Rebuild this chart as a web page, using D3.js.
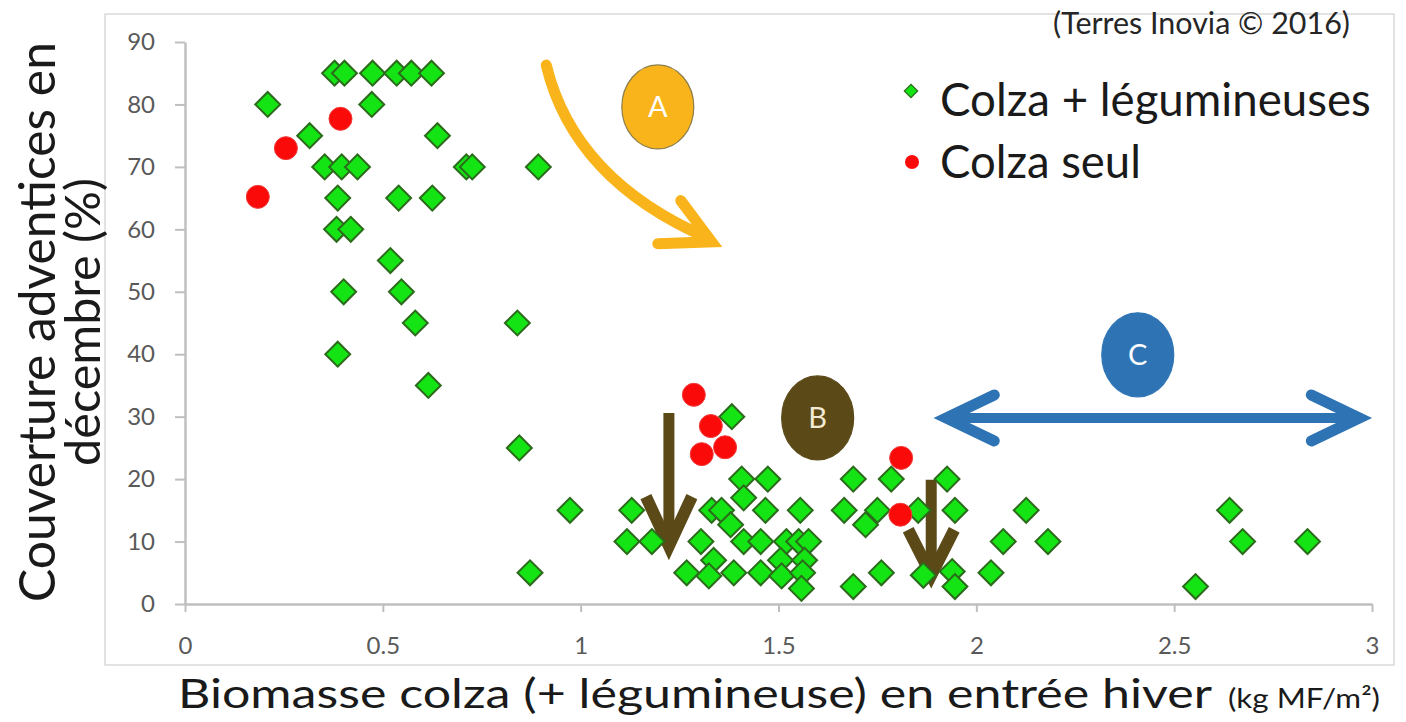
<!DOCTYPE html>
<html>
<head>
<meta charset="utf-8">
<script src="https://cdn.jsdelivr.net/npm/d3@7"></script>
<style>
  html, body { margin: 0; padding: 0; background: #fff; }
  svg { display: block; font-family: Lato, "Open Sans", sans-serif; }
</style>
</head>
<body>
<div id="chart"></div>
<script>
// ---- data ----
// Colza + légumineuses (green diamonds)
const legumeX = [0.378, 0.403, 0.474, 0.535, 0.572, 0.623,
  0.209, 0.472, 0.315, 0.638,
  0.353, 0.396, 0.436, 0.711, 0.726, 0.893,
  0.386, 0.540, 0.625, 0.383, 0.419, 0.519, 0.401, 0.547,
  0.582, 0.840, 0.386, 0.615, 1.382, 0.845,
  1.407, 1.473, 1.689, 1.785, 1.926, 1.412,
  0.973, 1.129, 1.331, 1.356, 1.467, 1.555, 1.666, 1.750, 1.853, 1.946, 2.126, 2.640,
  1.379, 1.720,
  1.117, 1.180, 1.304, 1.412, 1.455, 1.520, 1.551, 1.576, 2.068, 2.181, 2.673, 2.837,
  1.336, 1.505, 1.566,
  0.872, 1.268, 1.324, 1.387, 1.455, 1.508, 1.561, 1.760, 1.866, 1.939, 2.037,
  1.558, 1.689, 1.946, 2.554];
const legumeY = [85, 85, 85, 85, 85, 85,
  80, 80, 75, 75,
  70, 70, 70, 70, 70, 70,
  65, 65, 65, 60, 60, 55, 50, 50,
  45, 45, 40, 35, 30, 25,
  20, 20, 20, 20, 20, 17,
  15, 15, 15, 15, 15, 15, 15, 15, 15, 15, 15, 15,
  12.7, 12.7,
  10, 10, 10, 10, 10, 10, 10, 10, 10, 10, 10, 10,
  7, 7, 7,
  5, 5, 4.5, 5, 5, 4.5, 5, 5, 4.6, 5.2, 5,
  2.5, 2.8, 2.8, 2.8];

// Colza seul (red dots)
const seulX = [0.184, 0.255, 0.393, 1.286, 1.329, 1.306, 1.365, 1.810, 1.808];
const seulY = [65.2, 73.0, 77.7, 33.5, 28.5, 24.0, 25.1, 23.4, 14.3];

const xTicks = [0, 0.5, 1, 1.5, 2, 2.5, 3];
const yTicks = [0, 10, 20, 30, 40, 50, 60, 70, 80, 90];

const seriesNames = ["Colza + légumineuses", "Colza seul"];

// ---- layout ----
const W = 1406, H = 722;
const svg = d3.select("#chart").append("svg")
  .attr("width", W).attr("height", H)
  .attr("viewBox", `0 0 ${W} ${H}`);

const x = d3.scaleLinear().domain([0, 3]).range([185, 1372]);
const y = d3.scaleLinear().domain([0, 90]).range([604, 42]);

const GREEN = "#14e314", GREEN_DARK = "#2c6a1c", RED = "#fb0a0a";
const ORANGE = "#f9b41c", BROWN = "#5b4918", BLUE = "#2e74b5";

// fit a text to a given width by changing its font size
function fit(sel, w) {
  const l = sel.node().getComputedTextLength();
  const fs = parseFloat(sel.style("font-size"));
  sel.style("font-size", (fs * w / l) + "px");
  return sel;
}

// chart frame
svg.append("rect")
  .attr("x", 105).attr("y", 14).attr("width", 1289).attr("height", 651)
  .attr("fill", "none").attr("stroke", "#d9d9d9").attr("stroke-width", 1.5);

// axes
const gy = svg.append("g").attr("transform", `translate(${x(0)},0)`)
  .call(d3.axisLeft(y).tickValues(yTicks).tickSize(10).tickSizeOuter(0).tickPadding(20));
const gx = svg.append("g").attr("transform", `translate(0,${y(0)})`)
  .call(d3.axisBottom(x).tickValues(xTicks).tickSize(8).tickSizeOuter(0).tickPadding(25)
    .tickFormat(d3.format("~g")));

[gx, gy].forEach(g => {
  g.select(".domain").attr("stroke", "#bfbfbf").attr("stroke-width", 2.5);
  g.selectAll(".tick line").attr("stroke", "#bfbfbf").attr("stroke-width", 2);
  g.selectAll(".tick text").attr("fill", "#595959")
    .style("font-family", "Lato, sans-serif").style("font-size", "24px");
});

// ---- annotations (in data units) ----
const ann = svg.append("g");

// A: orange curved arrow
ann.append("path")
  .attr("d", `M${x(0.913)},${y(86.3)} Q${x(0.983)},${y(67.9)} ${x(1.322)},${y(58.6)}`)
  .attr("fill", "none").attr("stroke", ORANGE).attr("stroke-width", 11)
  .attr("stroke-linecap", "round");
ann.append("path")
  .attr("d", `M${x(1.253)},${y(64.6)} L${x(1.331)},${y(58.0)} L${x(1.195)},${y(57.7)}`)
  .attr("fill", "none").attr("stroke", ORANGE).attr("stroke-width", 11)
  .attr("stroke-linecap", "round").attr("stroke-linejoin", "miter");

// brown down arrows
[[1.223, 30.6, 9.3, 17.2], [1.886, 19.9, 4.6, 11.9]].forEach(([ax, top, tip, arm]) => {
  ann.append("line")
    .attr("x1", x(ax)).attr("x2", x(ax)).attr("y1", y(top)).attr("y2", y(tip) - 4)
    .attr("stroke", BROWN).attr("stroke-width", 11);
  ann.append("path")
    .attr("d", `M${x(ax) - 23},${y(arm)} L${x(ax)},${y(tip)} L${x(ax) + 23},${y(arm)}`)
    .attr("fill", "none").attr("stroke", BROWN).attr("stroke-width", 12)
    .attr("stroke-linejoin", "miter");
});

// C: blue double arrow
const by = y(29.8);
ann.append("line")
  .attr("x1", x(1.924) + 6).attr("x2", x(2.968) - 6).attr("y1", by).attr("y2", by)
  .attr("stroke", BLUE).attr("stroke-width", 10);
ann.append("path")
  .attr("d", `M${x(1.924) + 48},${by - 23} L${x(1.924)},${by} L${x(1.924) + 48},${by + 23}`)
  .attr("fill", "none").attr("stroke", BLUE).attr("stroke-width", 11)
  .attr("stroke-linecap", "round");
ann.append("path")
  .attr("d", `M${x(2.968) - 48},${by - 23} L${x(2.968)},${by} L${x(2.968) - 48},${by + 23}`)
  .attr("fill", "none").attr("stroke", BLUE).attr("stroke-width", 11)
  .attr("stroke-linecap", "round");

// letter bubbles
const bubbles = [
  { t: "A", cx: 1.195, cy: 79.6, fill: ORANGE, stroke: "#8a7d4a", text: "#ffffff" },
  { t: "B", cx: 1.599, cy: 29.8, fill: BROWN, stroke: BROWN, text: "#f3ead6" },
  { t: "C", cx: 2.408, cy: 39.9, fill: BLUE, stroke: BLUE, text: "#ffffff" }
];
bubbles.forEach(b => {
  ann.append("ellipse")
    .attr("cx", x(b.cx)).attr("cy", y(b.cy)).attr("rx", 36).attr("ry", 42)
    .attr("fill", b.fill).attr("stroke", b.stroke).attr("stroke-width", 1.2);
  ann.append("text")
    .attr("x", x(b.cx)).attr("y", y(b.cy)).attr("dy", "0.36em")
    .attr("text-anchor", "middle").attr("fill", b.text)
    .style("font-size", "29px").text(b.t);
});

// ---- points ----
const diamond = d3.symbol(d3.symbolSquare, 310);
svg.append("g").selectAll("path")
  .data(d3.range(legumeX.length))
  .join("path")
  .attr("d", diamond)
  .attr("transform", i => `translate(${x(legumeX[i])},${y(legumeY[i])}) rotate(45)`)
  .attr("fill", GREEN).attr("stroke", GREEN_DARK).attr("stroke-width", 2);

svg.append("g").selectAll("circle")
  .data(d3.range(seulX.length))
  .join("circle")
  .attr("cx", i => x(seulX[i])).attr("cy", i => y(seulY[i]))
  .attr("r", 11.5).attr("fill", RED).attr("stroke", "#f23a3a").attr("stroke-width", 1);

// ---- legend ----
const lg = svg.append("g");
lg.append("path").attr("d", d3.symbol(d3.symbolSquare, 90))
  .attr("transform", "translate(911,91) rotate(45)")
  .attr("fill", GREEN).attr("stroke", GREEN_DARK).attr("stroke-width", 1.2);
lg.append("circle").attr("cx", 912).attr("cy", 162).attr("r", 7).attr("fill", RED);
fit(lg.append("text").attr("x", 940).attr("y", 116).attr("fill", "#1a1a1a")
  .style("font-size", "38px").text(seriesNames[0]), 431);
fit(lg.append("text").attr("x", 940).attr("y", 178).attr("fill", "#1a1a1a")
  .style("font-size", "38px").text(seriesNames[1]), 201);

// source
fit(svg.append("text").attr("x", 1053).attr("y", 34).attr("fill", "#262626")
  .style("font-size", "21px").text("(Terres Inovia © 2016)"), 297);

// ---- axis titles ----
svg.append("text").attr("x", 178).attr("y", 708).attr("fill", "#1a1a1a")
  .attr("textLength", 1034).attr("lengthAdjust", "spacingAndGlyphs")
  .style("font-size", "40px").text("Biomasse colza (+ légumineuse) en entrée hiver");
svg.append("text").attr("x", 1228).attr("y", 708).attr("fill", "#1a1a1a")
  .attr("textLength", 152).attr("lengthAdjust", "spacingAndGlyphs")
  .style("font-size", "27px").text("(kg MF/m²)");

const yt = svg.append("g").attr("transform", "translate(0,322) rotate(-90)");
fit(yt.append("text").attr("x", 0).attr("y", 55).attr("text-anchor", "middle")
  .attr("fill", "#1a1a1a").style("font-size", "38px").text("Couverture adventices en"), 560);
fit(yt.append("text").attr("x", 0).attr("y", 100).attr("text-anchor", "middle")
  .attr("fill", "#1a1a1a").style("font-size", "38px").text("décembre (%)"), 288);
</script>
</body>
</html>
